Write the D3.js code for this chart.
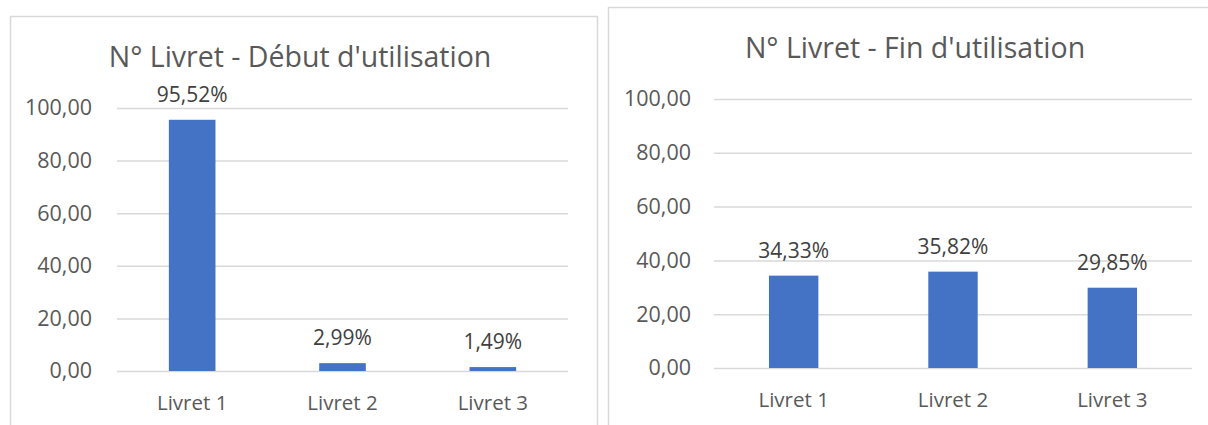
<!DOCTYPE html>
<html>
<head>
<meta charset="utf-8">
<script src="https://cdn.jsdelivr.net/npm/d3@7"></script>
<style>
  body { margin: 0; background: #fff; }
  svg { display: block; font-family: 'Open Sans', sans-serif; }
</style>
</head>
<body>
<div id="wrapper"></div>
<script>
// Data
const categories = ['Livret 1', 'Livret 2', 'Livret 3']
const debutValues = [95.52, 2.99, 1.49]
const finValues = [34.33, 35.82, 29.85]
const tickValues = [0, 20, 40, 60, 80, 100]
const titles = ["N° Livret - Début d'utilisation", "N° Livret - Fin d'utilisation"]

const fr = d3.formatLocale({ decimal: ',', thousands: ' ', grouping: [3], currency: ['', ' €'] })
const tickFormat = fr.format('.2f')
const labelFormat = d => fr.format('.2f')(d) + '%'

const wrapper = d3.select('#wrapper')
	.append('svg')
		.attr('width', 1208)
		.attr('height', 425)

function drawChart(panel, values, title) {
	const g = wrapper.append('g')

	// frame
	g.append('rect')
		.attr('x', panel.frame[0] + 0.5)
		.attr('y', panel.frame[1] + 0.5)
		.attr('width', panel.frame[2])
		.attr('height', panel.frame[3])
		.attr('fill', '#fff')
		.attr('stroke', '#d9d9d9')
		.attr('stroke-width', 1.5)

	const xScale = d3.scaleBand()
		.domain(categories)
		.range([panel.left, panel.right])
		.paddingInner(0.69)
		.paddingOuter(0.345)

	const yScale = d3.scaleLinear()
		.domain([0, 100])
		.range([panel.bottom, panel.top])

	// gridlines + y ticks
	const yAxis = g.append('g')
		.attr('transform', `translate(${panel.left},0)`)
		.call(d3.axisLeft(yScale)
			.tickValues(tickValues)
			.tickFormat(tickFormat)
			.tickSize(-(panel.right - panel.left))
			.tickPadding(panel.tickPad))
	yAxis.select('.domain').remove()
	yAxis.selectAll('line')
		.attr('stroke', '#d9d9d9')
		.attr('stroke-width', 1.5)
	yAxis.selectAll('text')
		.attr('fill', '#595959')
		.attr('font-size', '21.5px')
		.attr('font-family', "'Open Sans', sans-serif")

	// bars
	g.selectAll('.bar')
		.data(values)
		.join('rect')
			.attr('class', 'bar')
			.attr('x', (d, i) => xScale(categories[i]))
			.attr('width', xScale.bandwidth())
			.attr('y', d => yScale(d))
			.attr('height', d => yScale(0) - yScale(d))
			.attr('fill', '#4472c4')

	// data labels
	g.selectAll('.lbl')
		.data(values)
		.join('text')
			.attr('class', 'lbl')
			.attr('x', (d, i) => xScale(categories[i]) + xScale.bandwidth() / 2)
			.attr('y', d => yScale(d) - 18)
			.attr('text-anchor', 'middle')
			.attr('fill', '#404040')
			.attr('font-size', '21px')
			.text(labelFormat)

	// x labels
	const xAxis = g.append('g')
		.attr('transform', `translate(0,${panel.bottom})`)
		.call(d3.axisBottom(xScale).tickSize(0).tickPadding(24))
	xAxis.select('.domain').remove()
	xAxis.selectAll('text')
		.attr('fill', '#595959')
		.attr('font-size', '20.5px')
		.attr('font-family', "'Open Sans', sans-serif")

	// title
	g.append('text')
		.attr('x', panel.titleX)
		.attr('y', panel.titleY)
		.attr('text-anchor', 'middle')
		.attr('fill', '#595959')
		.attr('font-size', '28.5px')
		.text(title)
}

drawChart({ frame: [10, 16, 587, 420], left: 117, right: 568, top: 108, bottom: 371, tickPad: 25, titleX: 300, titleY: 67 }, debutValues, titles[0])
drawChart({ frame: [608, 7, 620, 430], left: 714, right: 1192, top: 99, bottom: 368, tickPad: 23, titleX: 915, titleY: 58 }, finValues, titles[1])
</script>
</body>
</html>
